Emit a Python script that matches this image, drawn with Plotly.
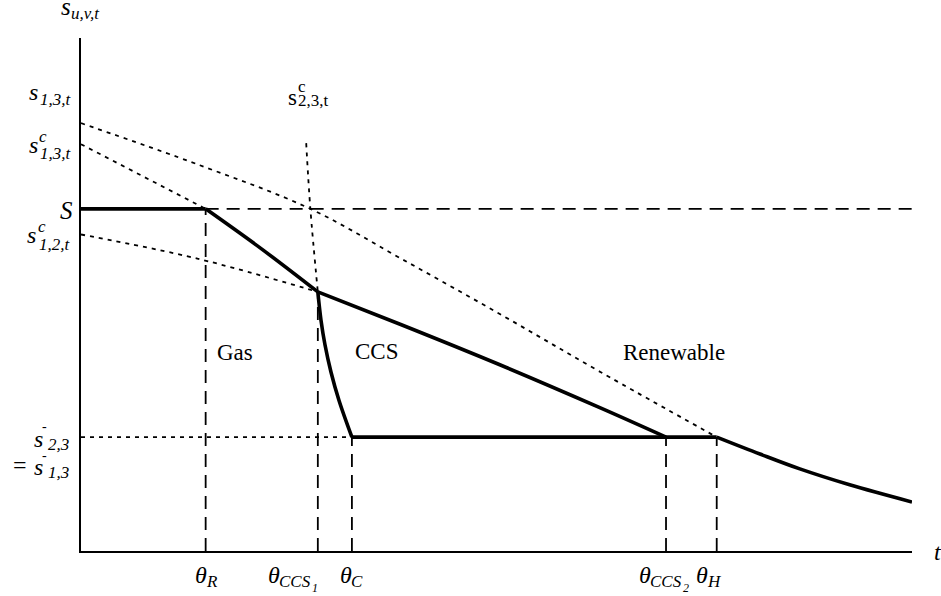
import numpy as np
import plotly.graph_objects as go

# ---------------- data (schematic values) ----------------
t_max = 10.0
s_max = 10.0
S_level = 6.67            # S
s_bar = 2.22              # s-bar_{2,3} = s-bar_{1,3}

theta_names = ["R", "CCS", "C", "CCS", "H"]
theta_index = ["", "1", "", "2", ""]
theta_vals = [1.50, 2.85, 3.26, 7.04, 7.65]

s13_t = [0.0, 1.43, 2.76, 3.84, 5.04, 6.25, 7.65, 8.17, 8.65, 9.25, 10.0]
s13_v = [8.34, 7.52, 6.67, 5.71, 4.62, 3.49, 2.22, 1.89, 1.60, 1.29, 0.955]

sc13_t = [0.0, 1.50, 2.18, 2.85]
sc13_v = [7.93, 6.67, 5.88, 5.05]

sc12_t = [0.0, 1.40, 2.85, 3.84, 5.04, 6.25, 7.04]
sc12_v = [6.17, 5.70, 5.05, 4.42, 3.63, 2.79, 2.22]

sc23_t = [2.71, 2.76, 2.85, 2.888, 2.936, 3.008, 3.104, 3.26]
sc23_v = [7.95, 6.67, 5.05, 4.50, 4.02, 3.49, 2.94, 2.22]

region_names = ["Gas", "CCS", "Renewable"]

# ---------------- helpers ----------------
th_R, th_CCS1, th_C, th_CCS2, th_H = theta_vals


def split(t, v, at):
    t = np.asarray(t, float)
    v = np.asarray(v, float)
    b = t <= at + 1e-9
    a = t >= at - 1e-9
    return (t[b], v[b]), (t[a], v[a])


THICK = 3.6
THIN = 1.8
DASH = "13px,8px"
DOT = "4px,5px"

fig = go.Figure()


def line(t, v, width, dash="solid", shape="spline"):
    fig.add_trace(go.Scatter(x=list(t), y=list(v), mode="lines", hoverinfo="skip",
                             line=dict(color="black", width=width, dash=dash,
                                       shape=shape, smoothing=1.0),
                             showlegend=False))


(d13, s13s) = split(s13_t, s13_v, th_H)        # s_{1,3,t}
(dc13, sc13s) = split(sc13_t, sc13_v, th_R)    # s^c_{1,3,t}
(dc12, sc12s) = split(sc12_t, sc12_v, th_CCS1) # s^c_{1,2,t}
(dc23, sc23s) = split(sc23_t, sc23_v, th_CCS1) # s^c_{2,3,t}

S_solid = ([0.0, th_R], [S_level, S_level])
S_dash = ([th_R, t_max], [S_level, S_level])
bar_dot = ([0.0, th_C], [s_bar, s_bar])
bar_solid = ([th_C, th_H], [s_bar, s_bar])

solid_segments = [S_solid, sc13s, sc12s, sc23s, bar_solid, s13s]


def envelope_low(th):
    vals = []
    for (t, v) in solid_segments:
        t = np.asarray(t, float)
        if t[0] - 1e-9 <= th <= t[-1] + 1e-9:
            vals.append(float(np.interp(th, t, v)))
    return min(vals)


# dashed / dotted guides first
line(*S_dash, THIN, DASH, "linear")
for th in theta_vals:
    line([th, th], [0.0, envelope_low(th)], THIN, DASH, "linear")
line(*d13, THIN, DOT)
line(*dc13, THIN, DOT)
line(*dc12, THIN, DOT)
line(*dc23, THIN, DOT)
line(*bar_dot, THIN, DOT, "linear")

# solid path
line(*S_solid, THICK, "solid", "linear")
line(*sc13s, THICK)
line(*sc12s, THICK)
line(*sc23s, THICK)
line(*bar_solid, THICK, "solid", "linear")
line(*s13s, THICK)

# ---------------- text ----------------
FONT = "Liberation Serif, Times New Roman, Times, serif"
M, SUB, SS = 24, 17, 12
anns = []


def piece(x, y, text, size, dx, bdy, italic=True, xref="x", yref="y"):
    anns.append(dict(x=x, y=y, xref=xref, yref=yref,
                     text=f"<i>{text}</i>" if italic else text,
                     showarrow=False, xanchor="left", yanchor="middle",
                     xshift=dx, yshift=-(bdy - 0.34 * size), borderpad=0,
                     font=dict(family=FONT, size=size, color="black")))


# axis titles
piece(0, 1, "s", 25, -21, -23, xref="paper", yref="paper")
piece(0, 1, "u,v,t", SUB, -11, -19, xref="paper", yref="paper")
piece(t_max, 0, "t", M, 21, 9)

# left labels
piece(0, s13_v[0], "s", M, -53, -23)
piece(0, s13_v[0], "1,3,t", SUB, -42, -18)

piece(0, sc13_v[0], "s", M, -53, 9)
piece(0, sc13_v[0], "c", SUB, -43, -2)
piece(0, sc13_v[0], "1,3,t", SUB, -42, 15)

piece(0, S_level, "S", 25, -22, 10)

piece(0, sc12_v[0], "s", M, -55, 9)
piece(0, sc12_v[0], "c", SUB, -44, -2)
piece(0, sc12_v[0], "1,2,t", SUB, -43, 16)

piece(0, s_bar, "s", M, -48, 10)
piece(0, s_bar, "-", 14, -40, -6.3, italic=False)
piece(0, s_bar, "2,3", SUB, -34, 13)
piece(0, s_bar, "=", M, -69, 36.5, italic=False)
piece(0, s_bar, "s", M, -48, 38)
piece(0, s_bar, "-", 14, -40, 22.7, italic=False)
piece(0, s_bar, "1,3", SUB, -34, 41)

# theta labels
theta_dx = [-12, -51, -13, -28, -22]
for th, nm, idx, dx in zip(theta_vals, theta_names, theta_index, theta_dx):
    piece(th, 0, "\u03b8", M, dx, 32)
    piece(th, 0, nm, SUB, dx + 11, 36)
    if idx:
        piece(th, 0, idx, SS, dx + 44, 41)

# s^c_{2,3,t} label (upright)
piece(sc23_t[0], sc23_v[0], "s", 23, -19, -38, italic=False)
piece(sc23_t[0], sc23_v[0], "c", SUB, -9, -51, italic=False)
piece(sc23_t[0], sc23_v[0], "2,3,t", SUB, -9, -36.5, italic=False)

# region labels
for name, (x, y) in zip(region_names, [(1.85, 3.86), (3.56, 3.88), (7.14, 3.86)]):
    anns.append(dict(x=x, y=y, xref="x", yref="y", text=name, showarrow=False,
                     xanchor="center", yanchor="middle", borderpad=0,
                     font=dict(family=FONT, size=23, color="black")))

fig.update_layout(
    width=941, height=596,
    margin=dict(l=81, r=29, t=38, b=45),
    paper_bgcolor="white", plot_bgcolor="white",
    font=dict(family=FONT, color="black"),
    showlegend=False,
    annotations=anns,
    xaxis=dict(range=[0, t_max], showgrid=False, zeroline=False, showticklabels=False,
               ticks="", showline=True, linecolor="black", linewidth=2, fixedrange=True),
    yaxis=dict(range=[0, s_max], showgrid=False, zeroline=False, showticklabels=False,
               ticks="", showline=True, linecolor="black", linewidth=2, fixedrange=True),
)

fig.write_html("out.html", config={"displayModeBar": False},
               post_script="document.body.style.margin='0';")
